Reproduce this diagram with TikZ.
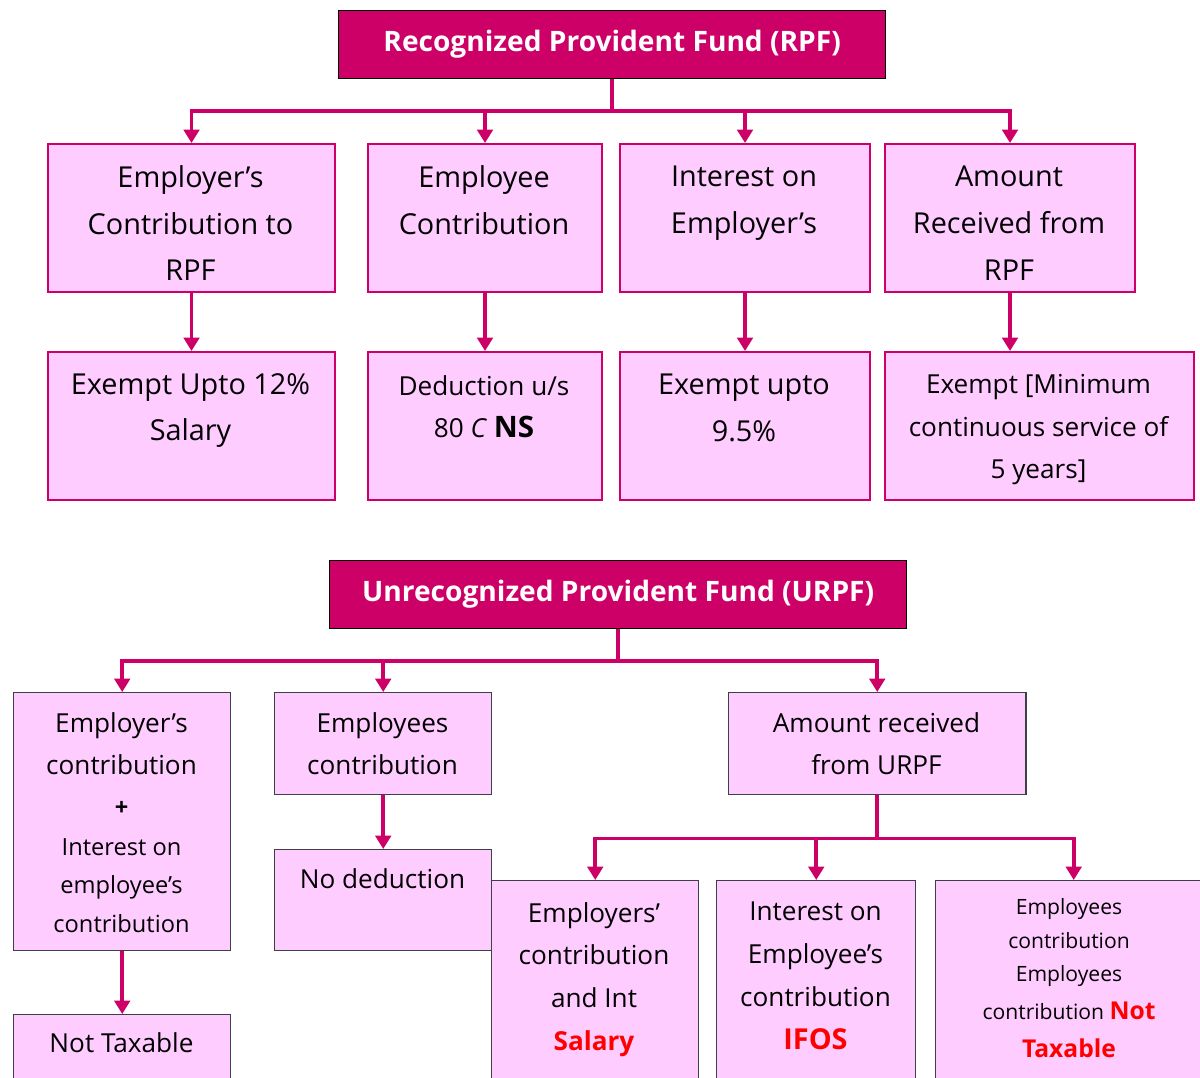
\documentclass[tikz,border=0pt]{standalone}
\usepackage{fontspec}
\setmainfont{Open Sans}
\usepackage{xcolor}
\usetikzlibrary{arrows.meta}

\definecolor{fundmag}{HTML}{CC0066}
\definecolor{fundpink}{HTML}{FFCCFF}
\definecolor{fundgray}{HTML}{3F3F46}

\begin{document}
\begin{tikzpicture}[x=0.025cm, y=-0.025cm,
	head/.style={draw=black, line width=.8pt, fill=fundmag, text=white, font=\fontsize{20}{24}\selectfont\bfseries, minimum height=1.7cm, anchor=north west, inner sep=0pt},
	rbox/.style={draw=fundmag, line width=1.4pt, fill=fundpink, anchor=north west, inner sep=0pt, minimum height=3.7cm},
	ubox/.style={draw=fundgray, line width=1pt, fill=fundpink, anchor=north west, inner sep=0pt},
	txt/.style={anchor=north, align=center, inner sep=0pt},
	bigtxt/.style={font=\fontsize{20.5}{33.3}\selectfont},
	midtxt/.style={font=\fontsize{18.6}{30.4}\selectfont},
	smalltxt/.style={font=\fontsize{16.8}{27.6}\selectfont},
	tinytxt/.style={font=\fontsize{15}{24}\selectfont},
	link/.style={draw=fundmag, line width=2.6pt, -{Triangle[width=11pt,length=9.5pt]}}]

	\useasboundingbox (0,0) rectangle (1200,1077);
	\clip (0,0) rectangle (1200,1077);

	% Recognized fund
	\node[head, minimum width=13.675cm] (rpf) at (338,10) {Recognized Provident Fund (RPF)};

	\node[rbox, minimum width=7.175cm] (emprA) at (47,143) {};
	\node[rbox, minimum width=5.85cm] (empeB) at (367,143) {};
	\node[rbox, minimum width=6.25cm] (intC) at (619,143) {};
	\node[rbox, minimum width=6.25cm] (amtD) at (884,143) {};

	\node[rbox, minimum width=7.175cm] (exA) at (47,351) {};
	\node[rbox, minimum width=5.85cm] (dedB) at (367,351) {};
	\node[rbox, minimum width=6.25cm] (exC) at (619,351) {};
	\node[rbox, minimum width=7.725cm] (exD) at (884,351) {};

	% texts of recognized fund
	\node[txt, bigtxt] (emprAt) at (190.5,165) {Employer’s\\Contribution to\\RPF};
	\node[txt, bigtxt] (empeBt) at (484,165) {Employee\\Contribution};
	\node[txt, bigtxt] (intCt) at (744,166) {Interest on\\Employer’s};
	\node[txt, bigtxt] (amtDt) at (1009,166) {Amount\\Received from\\RPF};

	\node[txt, bigtxt] (exAt) at (190.5,373) {Exempt Upto 12\%\\Salary};
	\node[txt, midtxt] (dedBt) at (484,375) {Deduction u/s\\80 \textit{C} {\fontsize{21}{30}\selectfont\bfseries NS}};
	\node[txt, bigtxt] (exCt) at (744,374) {Exempt upto\\9.5\%};
	\node[txt, midtxt] (exDt) at (1038.5,374) {Exempt [Minimum\\continuous service of\\5 years]};

	% Unrecognized fund
	\node[head, minimum width=14.425cm] (urpf) at (329,560) {Unrecognized Provident Fund (URPF)};

	\node[ubox, minimum width=5.425cm, minimum height=6.45cm] (ercE) at (13,692) {};
	\node[ubox, minimum width=5.425cm, minimum height=2.55cm] (eecF) at (274,692) {};
	\node[ubox, minimum width=7.425cm, minimum height=2.55cm] (amtG) at (728,692) {};

	\node[ubox, minimum width=5.425cm, minimum height=2.525cm] (nodedF) at (274,849) {};
	\node[ubox, minimum width=5.425cm, minimum height=3cm] (notE) at (13,1014) {};

	\node[ubox, minimum width=5.175cm, minimum height=6cm] (salH) at (491,880) {};
	\node[ubox, minimum width=4.975cm, minimum height=6cm] (ifosI) at (716,880) {};
	\node[ubox, minimum width=6.9cm, minimum height=6cm] (notJ) at (935,880) {};

	% texts of unrecognized fund
	\node[txt, midtxt] (ercEt) at (121.5,712) {Employer’s\\contribution};
	\node[smalltxt, inner sep=0pt] (plusEt) at (121.5,808) {\bfseries +};
	\node[txt, smalltxt] (intEt) at (121.5,838) {Interest on\\employee’s\\contribution};
	\node[txt, midtxt] (eecFt) at (382.5,712) {Employees\\contribution};
	\node[txt, midtxt] (amtGt) at (876.5,712) {Amount received\\from URPF};
	\node[txt, midtxt] (nodedFt) at (382.5,868) {No deduction};
	\node[txt, midtxt] (notEt) at (121.5,1032) {Not Taxable};

	\node[txt, midtxt] (salHt) at (594,902) {Employers’\\contribution\\and Int\\\textcolor{red}{\bfseries Salary}};
	\node[txt, midtxt] (ifosIt) at (815.5,902) {Interest on\\Employee’s\\contribution\\\textcolor{red}{\fontsize{20.5}{30.4}\selectfont\bfseries IFOS}};
	\node[txt, tinytxt] (notJt) at (1069,898) {Employees\\contribution\\Employees\\[3pt]contribution \textcolor{red}{\fontsize{17.5}{24}\selectfont\bfseries Not}\\[3pt]\textcolor{red}{\fontsize{17.5}{24}\selectfont\bfseries Taxable}};

	% Arrows
	\draw[link] (rpf.south) -- ++(0,32) -| (emprA.north);
	\draw[link] (rpf.south) -- ++(0,32) -| (empeB.north);
	\draw[link] (rpf.south) -- ++(0,32) -| (intC.north);
	\draw[link] (rpf.south) -- ++(0,32) -| (amtD.north);

	\draw[link] (emprA.south) -- (exA.north);
	\draw[link] (empeB.south) -- (dedB.north);
	\draw[link] (intC.south) -- (exC.north);
	\draw[link] (amtD.south) -- (amtD.south |- exD.north);

	\draw[link] (urpf.south) -- ++(0,32) -| (ercE.north);
	\draw[link] (urpf.south) -- ++(0,32) -| (eecF.north);
	\draw[link] (urpf.south) -- ++(0,32) -| (amtG.north);

	\draw[link] (ercE.south) -- (notE.north);
	\draw[link] (eecF.south) -- (nodedF.north);

	\draw[link] (amtG.south) -- ++(0,43) -| (salH.north);
	\draw[link] (amtG.south) -- ++(0,43) -| (ifosI.north);
	\draw[link] (amtG.south) -- ++(0,43) -| (notJ.north);

\end{tikzpicture}
\end{document}
